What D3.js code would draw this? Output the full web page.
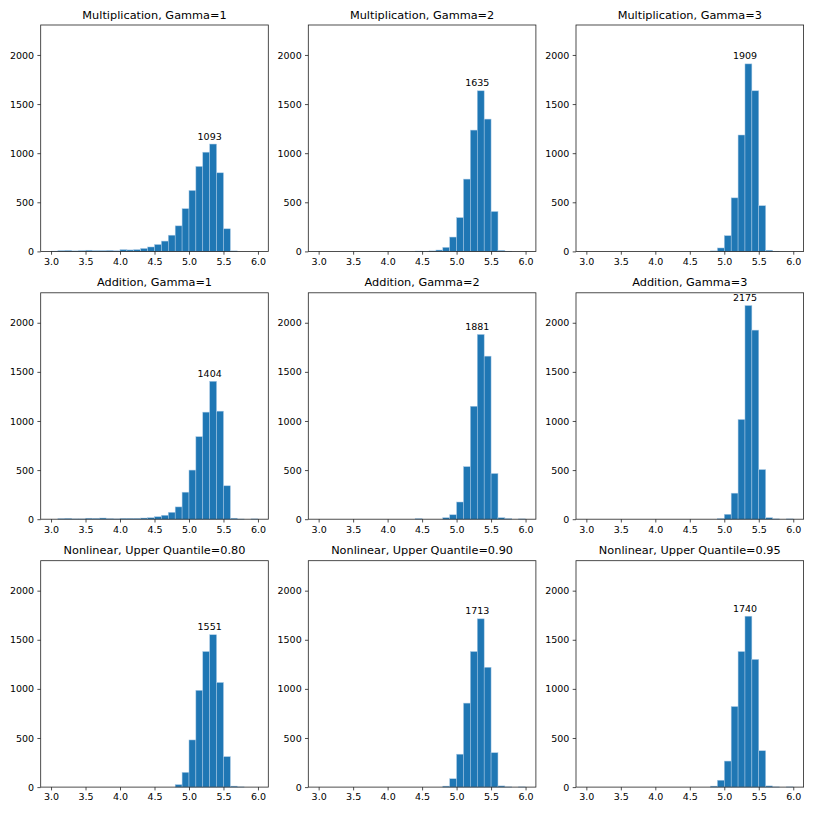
<!DOCTYPE html>
<html>
<head>
<meta charset="utf-8">
<script src="https://cdn.jsdelivr.net/npm/d3@7"></script>
<style>
  html, body { margin: 0; padding: 0; background: #fff; }
  svg { display: block; }
  text { font-family: "DejaVu Sans", sans-serif; fill: #000; }
</style>
</head>
<body>
<svg id="chart" width="814" height="814"></svg>
<script>
// ---- data ----
const binStart = [3.0,3.1,3.2,3.3,3.4,3.5,3.6,3.7,3.8,3.9,4.0,4.1,4.2,4.3,4.4,4.5,4.6,4.7,4.8,4.9,5.0,5.1,5.2,5.3,5.4,5.5,5.6,5.7,5.8,5.9];
const binWidth = 0.1;

const titles = [
  "Multiplication, Gamma=1", "Multiplication, Gamma=2", "Multiplication, Gamma=3",
  "Addition, Gamma=1", "Addition, Gamma=2", "Addition, Gamma=3",
  "Nonlinear, Upper Quantile=0.80", "Nonlinear, Upper Quantile=0.90", "Nonlinear, Upper Quantile=0.95"
];

const multGamma1 = [3,8,10,5,8,12,8,8,10,6,18,15,18,30,45,70,105,165,260,435,620,865,1010,1093,800,230,5,0,0,0];
const multGamma2 = [0,0,0,0,0,0,0,0,0,0,0,0,0,0,3,2,5,14,41,146,344,736,1235,1635,1347,406,10,2,0,0];
const multGamma3 = [0,0,0,0,0,0,0,0,0,0,0,0,0,0,0,0,0,0,5,35,160,545,1185,1909,1635,465,12,2,0,0];
const addGamma1  = [0,5,8,3,3,10,8,12,5,3,8,8,8,12,15,25,40,70,125,275,500,840,1090,1404,1100,340,10,2,0,3];
const addGamma2  = [0,0,0,0,0,0,0,0,0,0,0,0,0,0,5,0,0,0,15,45,175,535,1150,1881,1660,465,15,5,0,3];
const addGamma3  = [0,0,0,0,0,0,0,0,0,0,0,0,0,0,0,0,0,0,0,5,50,265,1015,2175,1925,505,15,3,0,3];
const nonlin080  = [0,0,0,0,0,0,0,0,0,0,0,0,0,0,0,0,0,0,25,150,480,985,1380,1551,1065,310,10,2,0,0];
const nonlin090  = [0,0,0,0,0,0,0,0,0,0,0,0,0,0,0,0,0,0,10,85,335,855,1380,1713,1220,350,12,2,0,2];
const nonlin095  = [0,0,0,0,0,0,0,0,0,0,0,0,0,0,0,0,0,0,10,70,265,820,1380,1740,1300,370,12,2,0,2];

const series = [multGamma1, multGamma2, multGamma3, addGamma1, addGamma2, addGamma3, nonlin080, nonlin090, nonlin095];

const xTickValues = [3.0,3.5,4.0,4.5,5.0,5.5,6.0];
const yTickValues = [0,500,1000,1500,2000];

// ---- layout ----
const colLeft = [40.7, 308.3, 576.0];
const rowTop = [25.0, 292.8, 560.7];
const panelW = 227.6;
const panelH = 226.4;
const xDomain = [2.85, 6.15];
const yMax = 2305;

const svg = d3.select("#chart");

series.forEach((vals, idx) => {
  const r = Math.floor(idx / 3), c = idx % 3;
  const g = svg.append("g").attr("transform", `translate(${colLeft[c]},${rowTop[r]})`);

  const x = d3.scaleLinear().domain(xDomain).range([0, panelW]);
  const y = d3.scaleLinear().domain([0, yMax]).range([panelH, 0]);

  const data = binStart.map((b, i) => ({ x0: b, x1: b + binWidth, v: vals[i] }));

  // bars
  g.append("g").selectAll("rect")
    .data(data.filter(d => d.v > 0))
    .join("rect")
    .attr("x", d => x(d.x0))
    .attr("width", d => x(d.x1) - x(d.x0))
    .attr("y", d => y(d.v))
    .attr("height", d => y(0) - y(d.v))
    .attr("fill", "#1f77b4")
    .attr("stroke", "#a9c9e6")
    .attr("stroke-width", 0.5);

  // max label
  const maxD = data.reduce((a, b) => (b.v > a.v ? b : a));
  g.append("text")
    .attr("x", x(maxD.x0))
    .attr("y", y(maxD.v) - 4.5)
    .attr("text-anchor", "middle")
    .attr("font-size", "9.5px")
    .text(maxD.v);

  // axes
  const xAxis = d3.axisBottom(x).tickValues(xTickValues).tickFormat(d3.format(".1f")).tickSizeOuter(0).tickSize(3.3).tickPadding(3.3);
  const yAxis = d3.axisLeft(y).tickValues(yTickValues).tickFormat(d3.format("d")).tickSizeOuter(0).tickSize(3.3).tickPadding(3.3);

  const gx = g.append("g").attr("transform", `translate(0,${panelH})`).call(xAxis);
  const gy = g.append("g").call(yAxis);
  [gx, gy].forEach(ax => {
    ax.select(".domain").remove();
    ax.selectAll(".tick line").attr("stroke", "#222").attr("stroke-width", 0.8);
    ax.selectAll(".tick text").attr("font-size", "9.5px").attr("font-family", "DejaVu Sans, sans-serif").attr("fill", "#000");
  });

  // frame (spines)
  g.append("rect")
    .attr("x", 0).attr("y", 0)
    .attr("width", panelW).attr("height", panelH)
    .attr("fill", "none")
    .attr("stroke", "#222")
    .attr("stroke-width", 0.8);

  // title
  g.append("text")
    .attr("x", panelW / 2)
    .attr("y", -6.5)
    .attr("text-anchor", "middle")
    .attr("font-size", "11.3px")
    .text(titles[idx]);
});
</script>
</body>
</html>
